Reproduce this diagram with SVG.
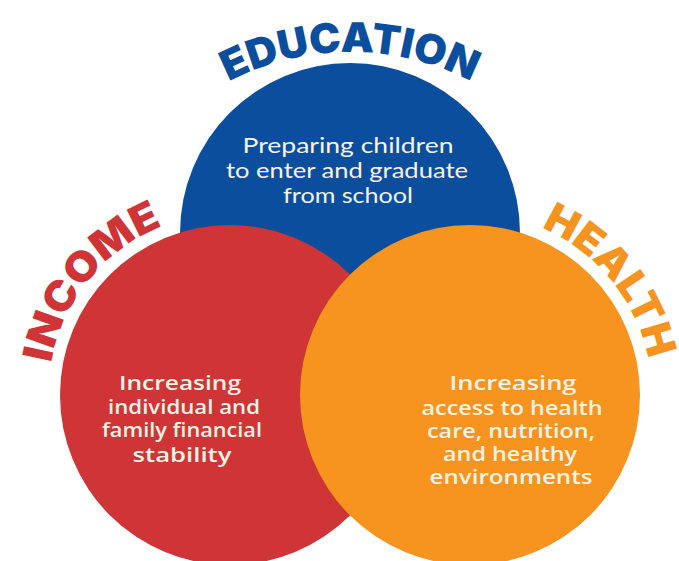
<svg xmlns="http://www.w3.org/2000/svg" xmlns:xlink="http://www.w3.org/1999/xlink" width="679" height="561" viewBox="0 0 679 561">
<defs>
<style>
.title{font-family:Inter,"DejaVu Sans",sans-serif;font-weight:900;font-size:41px}
.body{fill:#f6f3e4;text-anchor:middle}
.reg{font-family:Lato,"Open Sans",sans-serif;font-size:22px;font-weight:400}
.semi{font-family:"Open Sans",Lato,sans-serif;font-size:20px;font-weight:600}
</style>
<path id="arcEdu" d="M122.2 183.5 A263 263 0 0 1 577.8 183.5"/>
<path id="arcInc" d="M52 431.7 A182 182 0 0 1 230 213"/>
<path id="arcHea" d="M470 213 A182 182 0 0 1 648 431.7"/>
</defs>
<rect width="679" height="561" fill="#ffffff"/>
<g id="education">
<circle cx="350" cy="233" r="170" fill="#0c4e9e"/>
<text class="title" fill="#0c4e9e"><textPath xlink:href="#arcEdu" href="#arcEdu" startOffset="50%" text-anchor="middle" textLength="252" lengthAdjust="spacingAndGlyphs">EDUCATION</textPath></text>
<text class="body reg"><tspan x="348" y="153" textLength="211" lengthAdjust="spacingAndGlyphs">Preparing children</tspan><tspan x="347" y="178" textLength="242" lengthAdjust="spacingAndGlyphs">to enter and graduate</tspan><tspan x="348" y="203" textLength="130" lengthAdjust="spacingAndGlyphs">from school</tspan></text>
</g>
<g id="income">
<circle cx="230" cy="395" r="170" fill="#cf3436"/>
<text class="title" fill="#cf3436"><textPath xlink:href="#arcInc" href="#arcInc" startOffset="50%" text-anchor="middle" textLength="184" lengthAdjust="spacingAndGlyphs">INCOME</textPath></text>
<text class="body semi"><tspan x="180" y="390" textLength="122" lengthAdjust="spacingAndGlyphs">Increasing</tspan><tspan x="184" y="414" textLength="152" lengthAdjust="spacingAndGlyphs">individual and</tspan><tspan x="182" y="437" textLength="160" lengthAdjust="spacingAndGlyphs">family financial</tspan><tspan x="182" y="462" textLength="99" lengthAdjust="spacingAndGlyphs">stability</tspan></text>
</g>
<g id="health">
<circle cx="470" cy="395" r="170" fill="#f7931f"/>
<text class="title" fill="#f7931f"><textPath xlink:href="#arcHea" href="#arcHea" startOffset="50%" text-anchor="middle" textLength="176" lengthAdjust="spacingAndGlyphs">HEALTH</textPath></text>
<text class="body semi"><tspan x="513" y="390" textLength="127" lengthAdjust="spacingAndGlyphs">Increasing</tspan><tspan x="512" y="415" textLength="181" lengthAdjust="spacingAndGlyphs">access to health</tspan><tspan x="511" y="438" textLength="168" lengthAdjust="spacingAndGlyphs">care, nutrition,</tspan><tspan x="510" y="461" textLength="134" lengthAdjust="spacingAndGlyphs">and healthy</tspan><tspan x="511" y="484" textLength="163" lengthAdjust="spacingAndGlyphs">environments</tspan></text>
</g>
<g id="connectors"></g>
</svg>
